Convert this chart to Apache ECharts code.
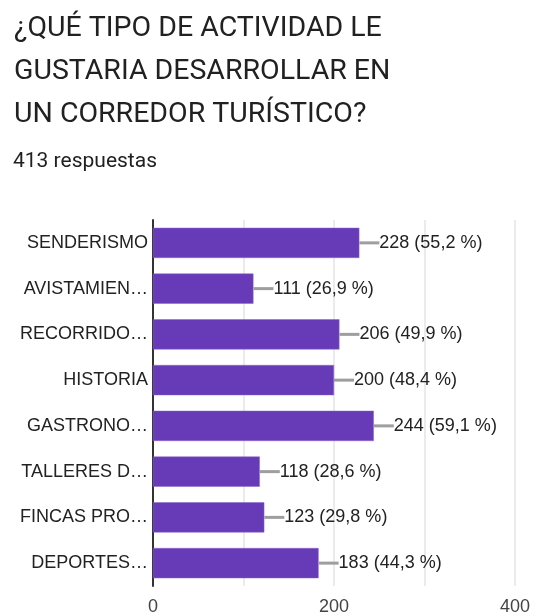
<!DOCTYPE html>
<html lang="es">
<head>
<meta charset="UTF-8">
<title>Actividad corredor turístico</title>
<script src="https://cdn.jsdelivr.net/npm/echarts@6.0.0/dist/echarts.min.js"></script>
<style>
  html, body { margin: 0; padding: 0; background: #fff; }
  #chart { width: 533px; height: 616px; }
</style>
</head>
<body>
<div id="chart"></div>
<script>
// data
const totalResponses = 413;
const categories = ['SENDERISMO', 'AVISTAMIEN…', 'RECORRIDO…', 'HISTORIA', 'GASTRONO…', 'TALLERES D…', 'FINCAS PRO…', 'DEPORTES…'];
const counts = [228, 111, 206, 200, 244, 118, 123, 183];
const xTicks = [0, 200, 400];

const chart = echarts.init(document.getElementById('chart'));

function pct(v) {
  return (v / totalResponses * 100).toFixed(1).replace('.', ',');
}

chart.setOption({
  animation: false,
  title: [
    {
      text: '¿QUÉ TIPO DE ACTIVIDAD LE\nGUSTARIA DESARROLLAR EN\nUN CORREDOR TURÍSTICO?',
      left: 9,
      top: 2,
      textStyle: { fontFamily: 'Roboto', fontSize: 28.5, fontWeight: 'normal', color: '#212121', lineHeight: 43 }
    },
    {
      text: totalResponses + ' respuestas',
      left: 8,
      top: 146,
      textStyle: { fontFamily: 'Roboto', fontSize: 21, fontWeight: 'normal', color: '#212121' }
    }
  ],
  grid: { left: 153, right: 16, top: 220, bottom: 28, containLabel: false },
  xAxis: {
    type: 'value',
    min: 0,
    max: 400,
    interval: 100,
    axisLine: { show: false },
    axisTick: { show: false },
    splitLine: { lineStyle: { color: '#ebebeb', width: 2 } },
    axisLabel: {
      fontFamily: 'Liberation Sans',
      fontSize: 18,
      color: '#444',
      margin: 12,
      formatter: v => xTicks.includes(v) ? String(v) : ''
    }
  },
  yAxis: {
    type: 'category',
    inverse: true,
    data: categories,
    axisLine: { lineStyle: { color: '#333', width: 2 } },
    axisTick: { show: false },
    axisLabel: { fontFamily: 'Liberation Sans', fontSize: 18, color: '#222', margin: 5 }
  },
  series: [{
    type: 'bar',
    data: counts,
    barWidth: '66%',
    itemStyle: { color: '#673ab7', borderColor: '#8a65cc', borderWidth: 0.5 },
    label: {
      show: true,
      position: 'right',
      distance: 0,
      formatter: p => '{ln|}{t|' + p.value + ' (' + pct(p.value) + ' %)}',
      rich: {
        ln: { width: 20, height: 3, backgroundColor: '#9e9e9e' },
        t: { fontFamily: 'Liberation Sans', fontSize: 18, color: '#222' }
      }
    }
  }]
});
</script>
</body>
</html>
